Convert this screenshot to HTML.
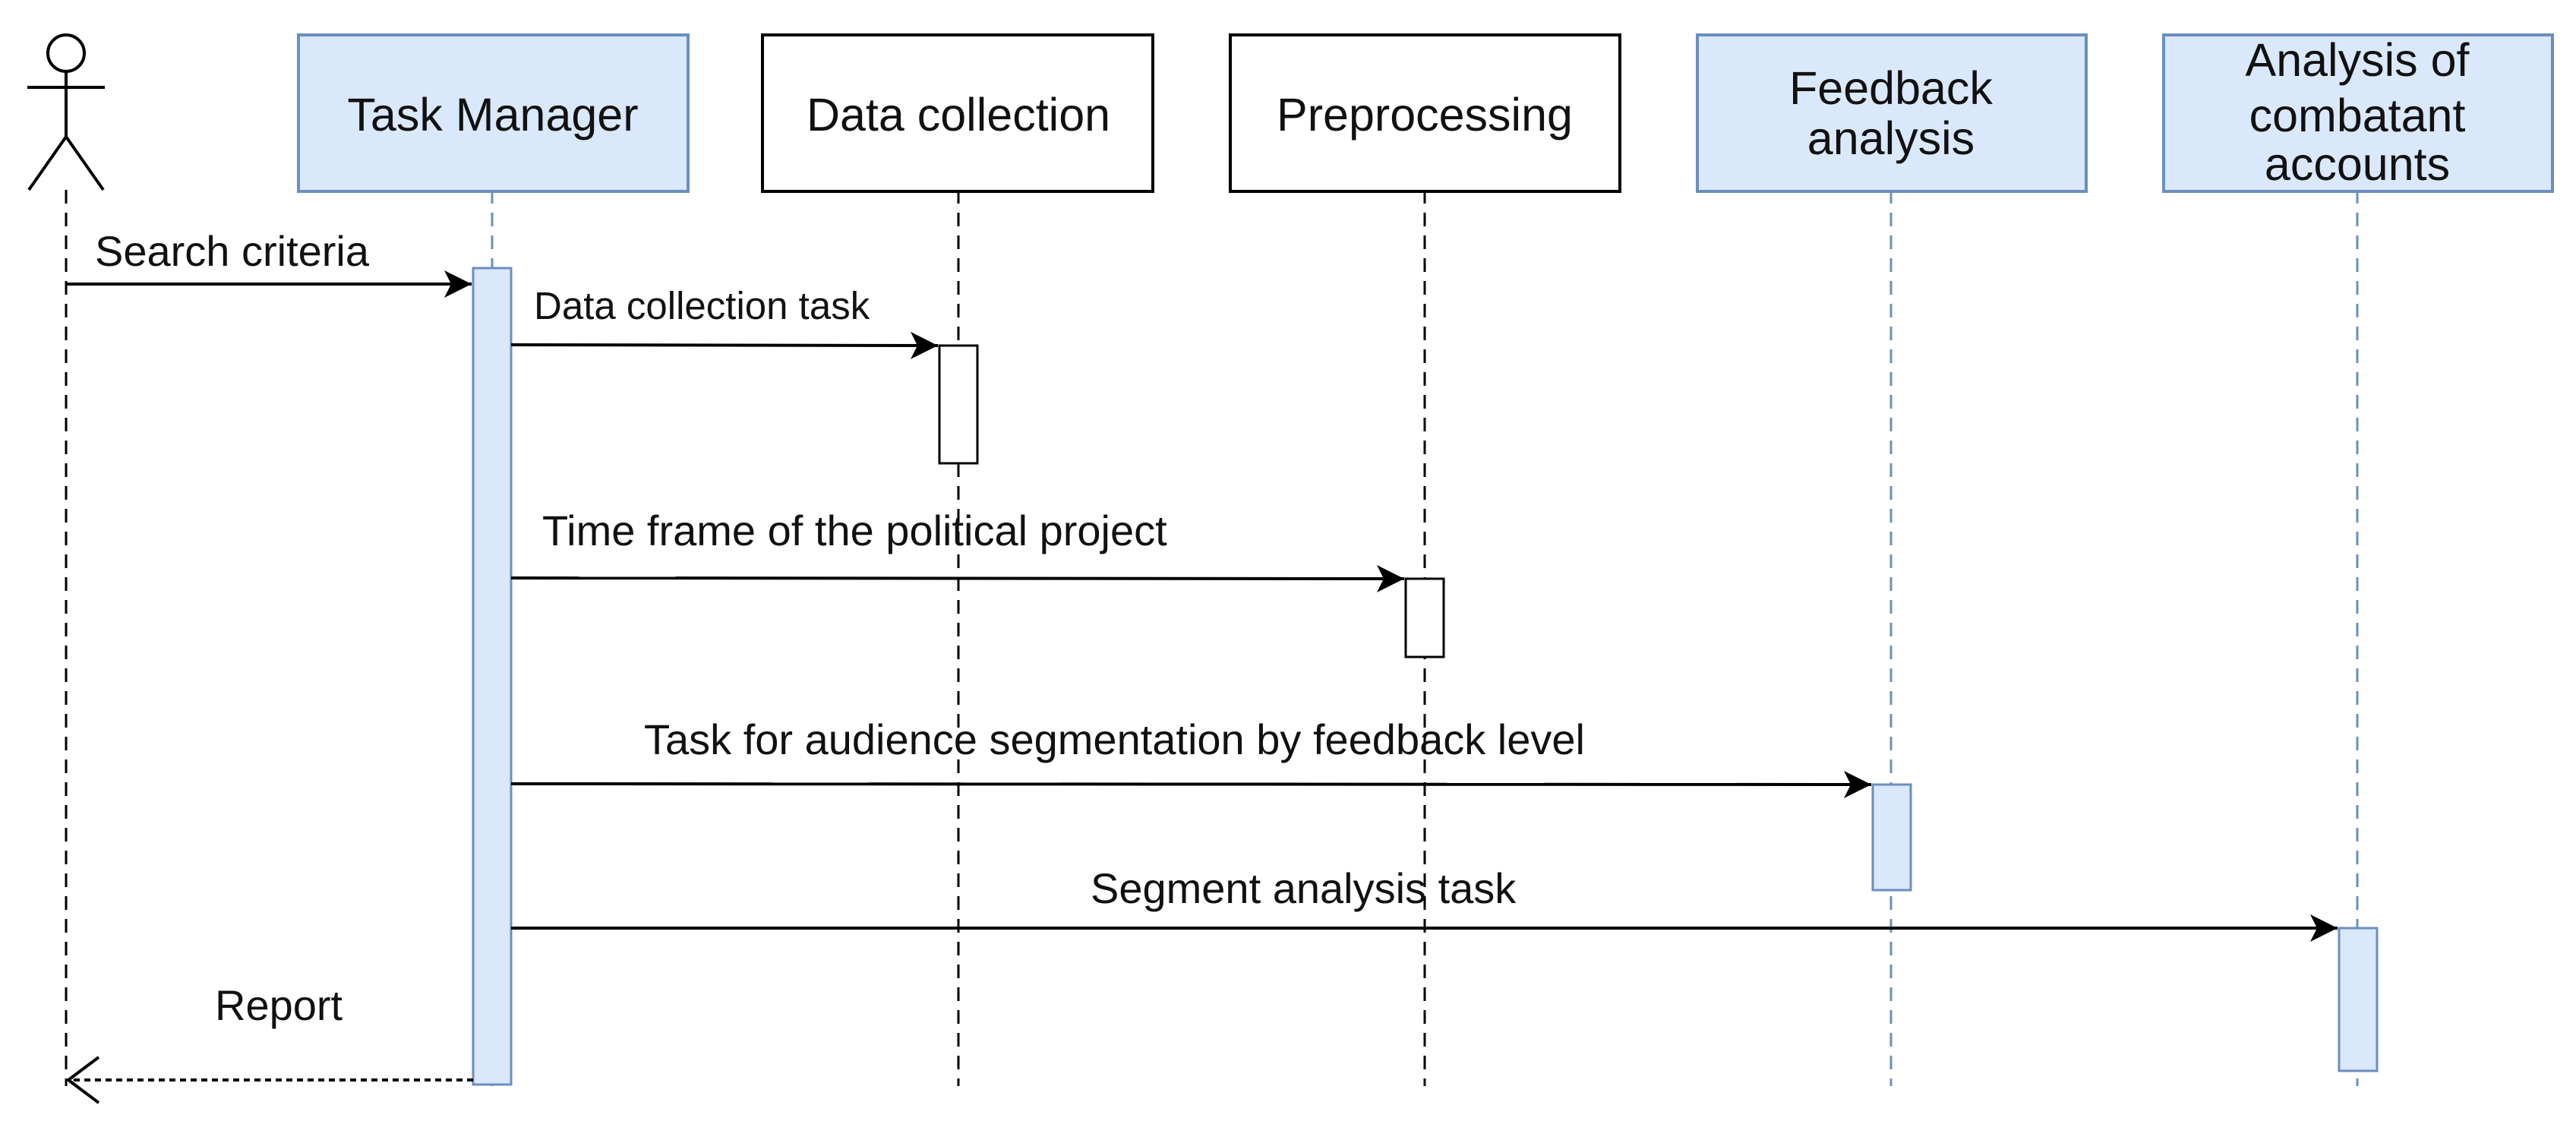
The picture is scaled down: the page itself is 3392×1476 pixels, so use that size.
<!DOCTYPE html>
<html><head><meta charset="utf-8"><style>
html,body{margin:0;padding:0;background:#fff;}
svg{display:block;}
text{font-family:"Liberation Sans",sans-serif;fill:#111;}
</style></head><body>
<svg width="3392" height="1476" viewBox="0 0 3392 1476" xmlns="http://www.w3.org/2000/svg">
<defs>
<marker id="a" markerWidth="40" markerHeight="40" refX="36" refY="18" orient="auto" markerUnits="userSpaceOnUse">
<path d="M0,0 L36,18 L0,36 L9,18 Z" fill="#000"/>
</marker>
</defs>
<g stroke-width="3" stroke-dasharray="18,12" fill="none">
<line x1="87" y1="250" x2="87" y2="1430" stroke="#000"/>
<line x1="648" y1="250" x2="648" y2="1430" stroke="#6c8ebf"/>
<line x1="1262" y1="250" x2="1262" y2="1430" stroke="#000"/>
<line x1="1876" y1="250" x2="1876" y2="1430" stroke="#000"/>
<line x1="2490" y1="250" x2="2490" y2="1430" stroke="#6c8ebf"/>
<line x1="3104" y1="250" x2="3104" y2="1430" stroke="#6c8ebf"/>
</g>
<g stroke="#000" stroke-width="4" fill="none">
<circle cx="87" cy="70" r="24"/>
<line x1="87" y1="94" x2="87" y2="180"/>
<line x1="36" y1="115" x2="138" y2="115"/>
<line x1="87" y1="180" x2="38" y2="250"/>
<line x1="87" y1="180" x2="136" y2="250"/>
</g>
<rect x="393" y="46" width="513" height="206" fill="#dae8fc" stroke="#6c8ebf" stroke-width="4"/>
<rect x="1004" y="46" width="514" height="206" fill="#fff" stroke="#000" stroke-width="4"/>
<rect x="1620" y="46" width="513" height="206" fill="#fff" stroke="#000" stroke-width="4"/>
<rect x="2235" y="46" width="512" height="206" fill="#dae8fc" stroke="#6c8ebf" stroke-width="4"/>
<rect x="2849" y="46" width="512" height="206" fill="#dae8fc" stroke="#6c8ebf" stroke-width="4"/>
<g font-size="61" text-anchor="middle">
<text x="649" y="172">Task Manager</text>
<text x="1262" y="172">Data collection</text>
<text x="1876" y="172">Preprocessing</text>
<text x="2490" y="137">Feedback</text>
<text x="2490" y="203">analysis</text>
<text x="3104" y="100">Analysis of</text>
<text x="3104" y="173">combatant</text>
<text x="3104" y="237">accounts</text>
</g>
<rect x="623" y="353" width="50" height="1075" fill="#dae8fc" stroke="#6c8ebf" stroke-width="3"/>
<rect x="1237" y="455" width="50" height="155" fill="#fff" stroke="#000" stroke-width="3"/>
<rect x="1851" y="762" width="50" height="103" fill="#fff" stroke="#000" stroke-width="3"/>
<rect x="2466" y="1033" width="50" height="139" fill="#dae8fc" stroke="#6c8ebf" stroke-width="3"/>
<rect x="3080" y="1222" width="50" height="188" fill="#dae8fc" stroke="#6c8ebf" stroke-width="3"/>
<g stroke="#000" stroke-width="4" fill="none">
<line x1="87" y1="374" x2="621" y2="374" marker-end="url(#a)"/>
<line x1="673" y1="454" x2="1235" y2="455" marker-end="url(#a)"/>
<line x1="673" y1="761" x2="1849" y2="762" marker-end="url(#a)"/>
<line x1="673" y1="1032" x2="2464" y2="1033" marker-end="url(#a)"/>
<line x1="673" y1="1222" x2="3078" y2="1222" marker-end="url(#a)"/>
<line x1="623" y1="1422" x2="92" y2="1422" stroke-dasharray="8,6"/>
<polyline points="130,1392 90,1422 130,1452"/>
</g>
<g font-size="56">
<text x="125" y="350">Search criteria</text>
<text x="703" y="420" font-size="51">Data collection task</text>
<text x="714" y="718">Time frame of the political project</text>
<text x="848" y="993">Task for audience segmentation by feedback level</text>
<text x="1436" y="1189">Segment analysis task</text>
<text x="283" y="1343">Report</text>
</g>
</svg>
</body></html>
